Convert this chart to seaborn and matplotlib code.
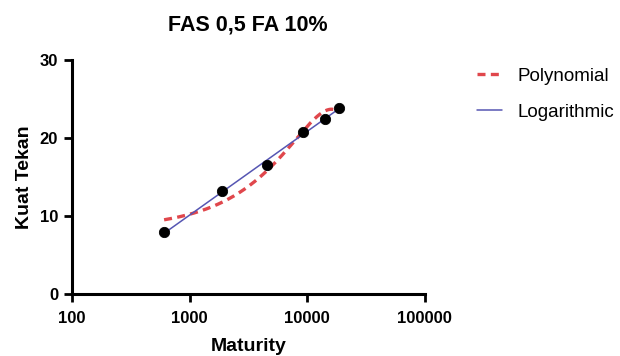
import numpy as np
import pandas as pd
import seaborn as sns
import matplotlib.pyplot as plt

sns.set_style("white")
plt.rcParams['font.family'] = ['Liberation Sans', 'DejaVu Sans']
plt.rcParams.update({'text.color': 'black', 'axes.labelcolor': 'black',
                     'xtick.color': 'black', 'ytick.color': 'black'})

# data
maturity = [608, 1890, 4540, 9240, 14130, 18700]
kuat_tekan = [7.9, 13.2, 16.6, 20.8, 22.4, 23.9]
title = "FAS 0,5 FA 10%"
x_ticks = [100, 1000, 10000, 100000]
y_ticks = [0, 10, 20, 30]

df = pd.DataFrame({'Maturity': maturity, 'Kuat Tekan': kuat_tekan})

# fits (polynomial 2nd order in x, logarithmic in ln x)
xs = np.geomspace(min(maturity), max(maturity), 200)
poly = np.polyfit(df['Maturity'] / 1000, df['Kuat Tekan'], 2)
logfit = np.polyfit(np.log(df['Maturity']), df['Kuat Tekan'], 1)
fit_df = pd.DataFrame({
    'x': np.concatenate([xs, xs]),
    'y': np.concatenate([np.polyval(poly, xs / 1000), np.polyval(logfit, np.log(xs))]),
    'model': ['Polynomial'] * len(xs) + ['Logarithmic'] * len(xs),
})

fig = plt.figure(figsize=(6.2, 3.56), dpi=100)
ax = fig.add_axes([0.116, 0.174, 0.569, 0.657])

sns.lineplot(data=fit_df[fit_df.model == 'Polynomial'], x='x', y='y', ax=ax,
             color='#e0474c', linestyle=(0, (2.4, 1.6)), linewidth=2.4,
             label='Polynomial', sort=False, estimator=None)
sns.lineplot(data=fit_df[fit_df.model == 'Logarithmic'], x='x', y='y', ax=ax,
             color='#5656b3', linewidth=1.1, label='Logarithmic',
             sort=False, estimator=None)
sns.scatterplot(data=df, x='Maturity', y='Kuat Tekan', ax=ax, color='black',
                s=55, edgecolor='black', zorder=5, legend=False)

ax.set_xscale('log')
ax.set_xlim(100, 100000)
ax.set_ylim(0, 30)
ax.set_xticks(x_ticks)
ax.set_xticklabels([str(t) for t in x_ticks])
ax.set_yticks(y_ticks)
ax.minorticks_off()
ax.tick_params(axis='both', direction='out', length=6, width=2, color='black',
               labelcolor='black', labelsize=12, pad=4, left=True, bottom=True)
ax.tick_params(axis='x', pad=6)
for lab in ax.get_xticklabels() + ax.get_yticklabels():
    lab.set_fontweight('bold')
for s in ['top', 'right']:
    ax.spines[s].set_visible(False)
for s in ['left', 'bottom']:
    ax.spines[s].set_linewidth(2.2)
    ax.spines[s].set_color('black')

ax.set_xlabel('Maturity', fontsize=14, fontweight='bold', labelpad=9)
ax.set_ylabel('Kuat Tekan', fontsize=14, fontweight='bold', labelpad=5)
ax.set_title(title, fontsize=15.5, fontweight='bold', pad=21, color='black')

ax.legend(loc='upper left', bbox_to_anchor=(1.1, 1.04), frameon=False,
          fontsize=13.5, handlelength=1.35, handletextpad=0.8, labelspacing=1.0,
          labelcolor='black')

plt.savefig('out.png', dpi=100)
